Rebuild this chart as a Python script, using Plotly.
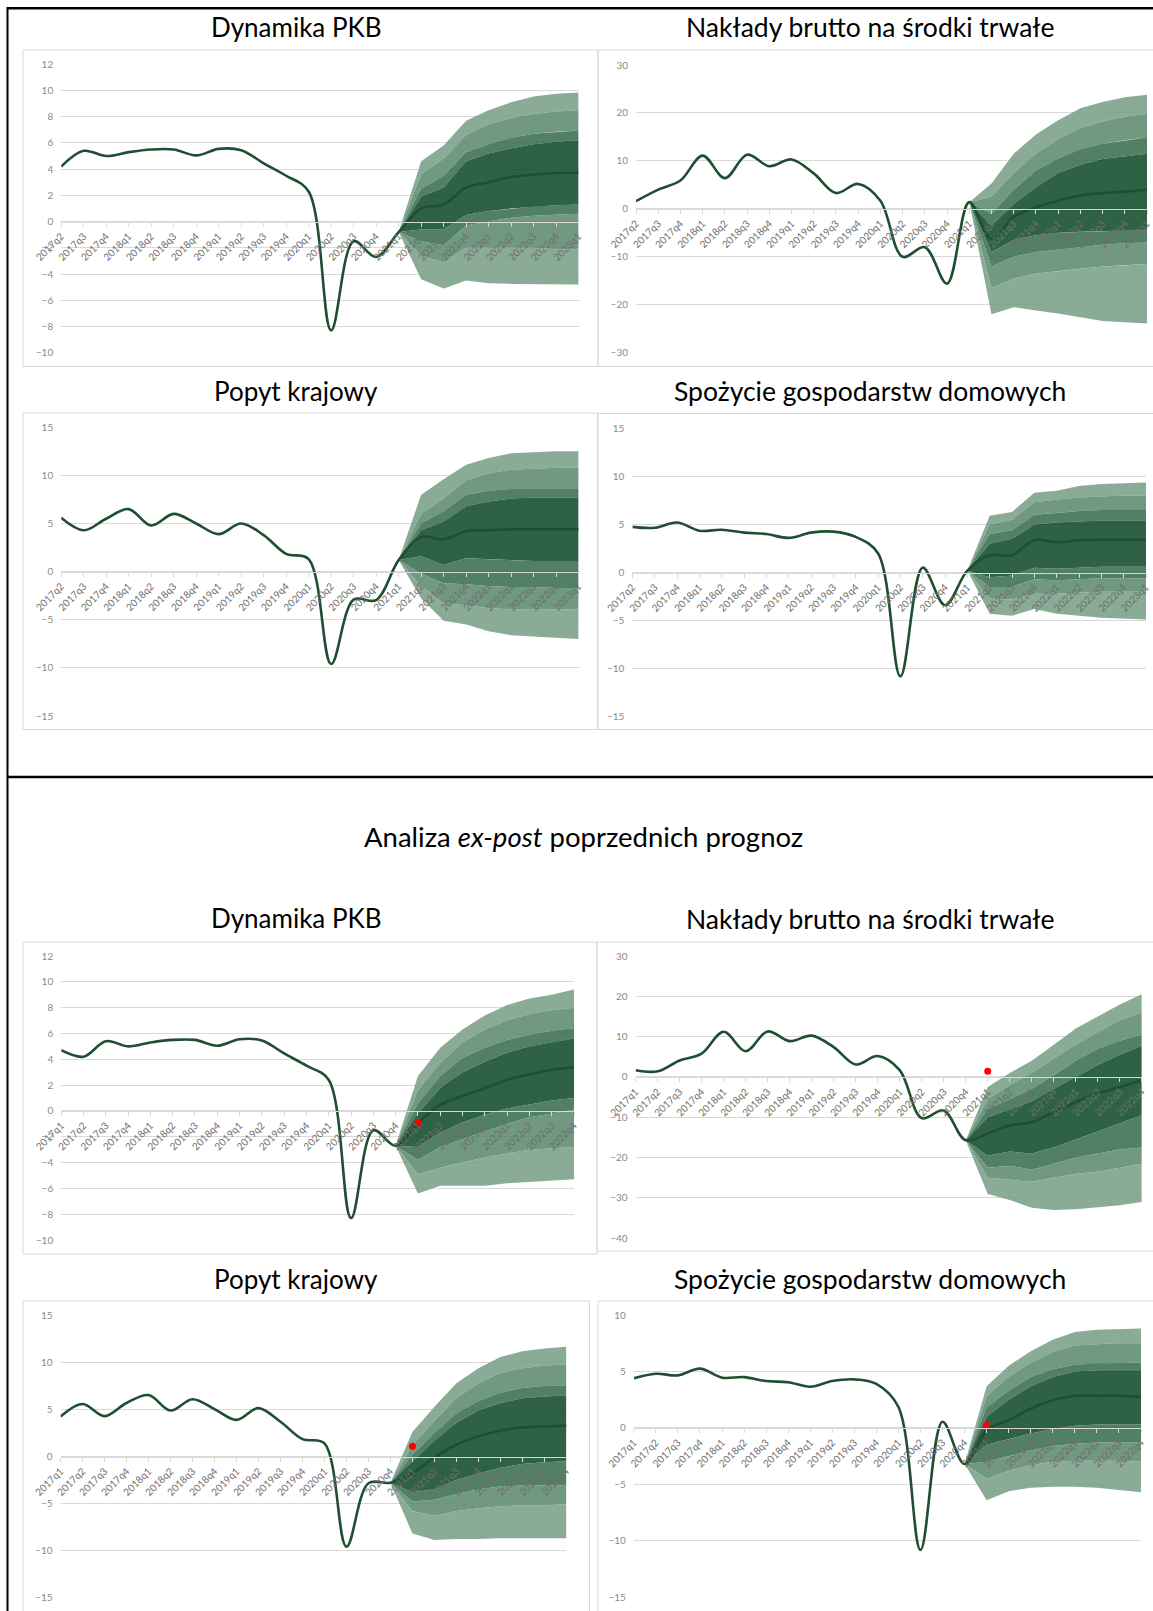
import plotly.graph_objects as go

W, H = 1153, 1611

# ---------------------------------------------------------------- categories
Q_MAIN = ["2017q2", "2017q3", "2017q4", "2018q1", "2018q2", "2018q3", "2018q4",
          "2019q1", "2019q2", "2019q3", "2019q4", "2020q1", "2020q2", "2020q3",
          "2020q4", "2021q1", "2021q2", "2021q3", "2021q4", "2022q1", "2022q2",
          "2022q3", "2022q4", "2023q1"]
Q_EXPOST = ["2017q1", "2017q2", "2017q3", "2017q4", "2018q1", "2018q2", "2018q3",
            "2018q4", "2019q1", "2019q2", "2019q3", "2019q4", "2020q1", "2020q2",
            "2020q3", "2020q4", "2021q1", "2021q2", "2021q3", "2021q4", "2022q1",
            "2022q2", "2022q3", "2022q4"]
FAN_START = 15          # first quarter of the fan (last observed point)
ACTUAL_Q = "2021q1"     # realised value shown against the old forecast

# ---------------------------------------------------------------- current forecast
# fan edges: [u4, u3, u2, u1, l1, l2, l3, l4]  (outer upper ... outer lower)
pkb_line = [4.2, 5.4, 5.0, 5.3, 5.5, 5.5, 5.05, 5.55, 5.45, 4.45, 3.5, 2.3,
            -8.3, -1.5, -2.7, -0.8, 1.0, 1.3, 2.6, 3.0, 3.4, 3.6, 3.7, 3.75]
pkb_fan = [
    [-0.8, 4.6, 5.8, 7.7, 8.5, 9.1, 9.55, 9.75, 9.85],
    [-0.8, 3.6, 4.8, 6.6, 7.4, 7.9, 8.2, 8.4, 8.5],
    [-0.8, 2.5, 3.5, 5.3, 5.9, 6.4, 6.7, 6.85, 6.95],
    [-0.8, 1.9, 2.6, 4.6, 5.2, 5.6, 5.9, 6.1, 6.2],
    [-0.8, -0.6, -0.6, 0.5, 0.8, 1.0, 1.15, 1.25, 1.3],
    [-0.8, -1.5, -1.8, -0.3, 0.0, 0.3, 0.45, 0.55, 0.6],
    [-0.8, -2.6, -3.1, -2.0, -2.0, -2.0, -2.0, -2.1, -2.1],
    [-0.8, -4.4, -5.1, -4.5, -4.7, -4.75, -4.8, -4.8, -4.8],
]

inv_line = [1.6, 4.0, 5.9, 11.1, 6.4, 11.3, 8.9, 10.3, 7.4, 3.3, 5.2, 1.7,
            -10.0, -8.0, -15.6, 1.4, -6.3, -1.7, 0.35, 1.7, 2.8, 3.3, 3.6, 4.0]
inv_fan = [
    [1.4, 5.3, 11.5, 15.5, 18.5, 21.0, 22.3, 23.3, 23.8],
    [1.4, 2.5, 7.5, 11.5, 14.5, 16.8, 18.2, 19.2, 19.8],
    [1.4, -1.0, 4.0, 8.0, 10.5, 12.5, 13.6, 14.3, 14.9],
    [1.4, -3.5, 1.0, 4.5, 7.5, 9.2, 10.4, 11.0, 11.5],
    [1.4, -9.0, -6.5, -5.5, -5.0, -4.8, -4.6, -4.5, -4.5],
    [1.4, -12.0, -10.0, -9.0, -8.5, -8.0, -7.5, -7.2, -7.0],
    [1.4, -16.5, -14.5, -13.5, -13.0, -12.5, -12.0, -11.8, -11.5],
    [1.4, -22.0, -20.5, -21.2, -21.8, -22.6, -23.4, -23.6, -23.9],
]

dd_line = [5.6, 4.3, 5.5, 6.5, 4.8, 6.0, 5.0, 3.9, 5.0, 3.8, 1.85, 1.3,
           -9.6, -2.9, -2.95, 1.2, 3.6, 3.35, 4.2, 4.3, 4.4, 4.4, 4.4, 4.4]
dd_fan = [
    [1.2, 8.0, 9.6, 11.1, 11.8, 12.3, 12.4, 12.5, 12.5],
    [1.2, 6.0, 7.6, 9.5, 10.2, 10.6, 10.7, 10.8, 10.8],
    [1.2, 5.0, 6.3, 8.0, 8.4, 8.6, 8.6, 8.6, 8.6],
    [1.2, 4.3, 5.2, 6.8, 7.3, 7.6, 7.7, 7.7, 7.7],
    [1.2, 1.6, 0.7, 1.4, 1.3, 1.2, 1.1, 1.1, 1.1],
    [1.2, -0.2, -1.2, -1.3, -1.5, -1.6, -1.6, -1.7, -1.7],
    [1.2, -1.5, -3.3, -3.5, -3.8, -3.9, -3.9, -3.9, -3.9],
    [1.2, -2.8, -5.1, -5.5, -6.2, -6.6, -6.75, -6.9, -7.0],
]

cons_line = [4.75, 4.65, 5.2, 4.35, 4.45, 4.15, 4.0, 3.6, 4.15, 4.25, 3.7, 2.0,
             -10.8, 0.5, -3.4, 0.2, 1.8, 1.8, 3.35, 3.15, 3.35, 3.4, 3.4, 3.4]
cons_fan = [
    [0.2, 5.9, 6.3, 8.3, 8.5, 9.0, 9.2, 9.3, 9.35],
    [0.2, 5.0, 5.5, 7.3, 7.6, 7.8, 7.9, 8.0, 8.0],
    [0.2, 4.0, 4.4, 6.0, 6.2, 6.4, 6.5, 6.5, 6.5],
    [0.2, 3.0, 3.5, 5.0, 5.2, 5.3, 5.4, 5.4, 5.4],
    [0.2, -0.5, -0.3, 0.5, 0.4, 0.5, 0.6, 0.6, 0.6],
    [0.2, -1.5, -1.5, -0.7, -0.8, -0.7, -0.6, -0.6, -0.6],
    [0.2, -2.7, -2.8, -2.2, -2.2, -2.1, -2.0, -2.0, -2.0],
    [0.2, -4.3, -4.5, -3.8, -4.3, -4.5, -4.7, -4.8, -4.9],
]

# ---------------------------------------------------------------- ex-post (previous forecast)
pkb_ep_line = [4.7, 4.2, 5.4, 5.0, 5.3, 5.5, 5.5, 5.05, 5.55, 5.45, 4.45, 3.5,
               2.4, -8.3, -1.5, -2.7, -0.95, 0.46, 1.16, 1.75, 2.4, 2.84, 3.17, 3.38]
pkb_ep_fan = [
    [-2.7, 2.7, 4.9, 6.3, 7.4, 8.2, 8.7, 9.0, 9.4],
    [-2.7, 1.6, 3.7, 5.3, 6.3, 7.0, 7.5, 7.8, 8.0],
    [-2.7, 0.6, 2.7, 4.1, 4.9, 5.5, 5.9, 6.2, 6.4],
    [-2.7, -0.2, 1.8, 3.0, 3.8, 4.5, 5.0, 5.3, 5.6],
    [-2.7, -2.8, -1.7, -0.9, -0.3, 0.2, 0.5, 0.8, 1.0],
    [-2.7, -3.8, -2.8, -2.2, -1.6, -1.0, -0.5, -0.2, 0.1],
    [-2.7, -4.9, -4.4, -4.0, -3.6, -3.3, -3.0, -2.9, -2.8],
    [-2.7, -6.4, -5.8, -5.8, -5.8, -5.6, -5.5, -5.4, -5.3],
]
pkb_ep_actual = -0.9

inv_ep_line = [1.65, 1.4, 4.1, 5.8, 11.2, 6.4, 11.3, 8.9, 10.25, 7.4, 3.1, 5.2,
               1.7, -10.2, -8.3, -15.7, -14.0, -12.0, -11.2, -8.7, -6.2, -4.1, -2.5, -0.8]
inv_ep_fan = [
    [-15.7, -2.5, 1.0, 4.0, 8.0, 12.0, 15.0, 18.0, 20.5],
    [-15.7, -5.5, -2.0, 1.0, 4.5, 8.0, 11.0, 14.0, 16.0],
    [-15.7, -8.0, -5.5, -3.0, 0.5, 4.0, 7.0, 9.0, 10.5],
    [-15.7, -10.0, -8.0, -6.0, -3.0, 0.0, 3.0, 5.5, 7.7],
    [-15.7, -19.5, -18.5, -19.0, -17.5, -15.5, -13.5, -11.5, -9.5],
    [-15.7, -22.5, -22.0, -23.0, -21.5, -20.0, -19.0, -18.0, -17.5],
    [-15.7, -25.0, -25.5, -26.0, -25.0, -24.0, -23.5, -22.5, -21.5],
    [-15.7, -29.0, -30.5, -32.4, -33.0, -32.8, -32.3, -31.8, -31.0],
]
inv_ep_actual = 1.4

dd_ep_line = [4.25, 5.6, 4.3, 5.7, 6.55, 4.9, 6.1, 5.05, 3.9, 5.15, 3.7, 1.85,
              1.4, -9.6, -2.85, -2.8, -1.8, -0.1, 1.25, 2.15, 2.75, 3.1, 3.2, 3.3]
dd_ep_fan = [
    [-2.8, 2.6, 5.3, 7.8, 9.4, 10.6, 11.2, 11.5, 11.7],
    [-2.8, 1.2, 3.8, 6.2, 7.8, 8.9, 9.4, 9.7, 9.8],
    [-2.8, 0.2, 2.5, 4.6, 5.9, 6.8, 7.3, 7.5, 7.6],
    [-2.8, -0.5, 1.6, 3.6, 4.9, 5.7, 6.2, 6.4, 6.5],
    [-2.8, -3.8, -3.5, -2.5, -1.8, -1.2, -0.8, -0.6, -0.5],
    [-2.8, -4.8, -4.6, -4.0, -3.5, -3.2, -3.1, -3.1, -3.1],
    [-2.8, -5.8, -6.3, -5.8, -5.5, -5.3, -5.2, -5.2, -5.1],
    [-2.8, -8.2, -8.9, -8.8, -8.8, -8.7, -8.7, -8.7, -8.7],
]
dd_ep_actual = 1.1

cons_ep_line = [4.4, 4.8, 4.65, 5.25, 4.45, 4.5, 4.15, 4.05, 3.65, 4.15, 4.3, 3.9,
                1.85, -10.8, 0.55, -3.2, -0.2, 0.7, 1.7, 2.45, 2.85, 2.85, 2.85, 2.75]
cons_ep_fan = [
    [-3.2, 3.7, 5.5, 6.8, 7.8, 8.5, 8.7, 8.75, 8.8],
    [-3.2, 2.8, 4.5, 5.8, 6.7, 7.3, 7.4, 7.5, 7.5],
    [-3.2, 1.8, 3.3, 4.5, 5.2, 5.6, 5.7, 5.75, 5.8],
    [-3.2, 1.0, 2.5, 3.7, 4.5, 5.0, 5.1, 5.1, 5.1],
    [-3.2, -1.5, -1.0, -0.5, -0.1, 0.2, 0.3, 0.3, 0.3],
    [-3.2, -3.0, -2.5, -2.0, -1.6, -1.4, -1.3, -1.3, -1.3],
    [-3.2, -4.5, -3.8, -3.3, -3.0, -2.9, -2.9, -2.9, -3.0],
    [-3.2, -6.4, -5.6, -5.3, -5.2, -5.2, -5.3, -5.5, -5.7],
]
cons_ep_actual = 0.25

# ---------------------------------------------------------------- styling
FONT = "Lato"
GRID = "#d9d9d9"
LINE_GREEN = "#1f4f30"
# outer, third, second, central band (semi-transparent so gridlines show through)
BAND_COLORS = ["rgba(117,156,131,0.85)", "rgba(88,134,106,0.85)",
               "rgba(52,106,73,0.85)", "rgba(10,70,35,0.85)"]

# plot areas in pixels: (left, right, top, bottom)
panels = [
    dict(q=Q_MAIN, line=pkb_line, fan=pkb_fan, actual=None,
         yr=(-10, 12), dt=2, area=(61.2, 578.6, 64.3, 352.7)),
    dict(q=Q_MAIN, line=inv_line, fan=inv_fan, actual=None,
         yr=(-30, 30), dt=10, area=(636.0, 1147.0, 65.0, 352.7)),
    dict(q=Q_MAIN, line=dd_line, fan=dd_fan, actual=None,
         yr=(-15, 15), dt=5, area=(61.2, 578.6, 427.3, 716.0)),
    dict(q=Q_MAIN, line=cons_line, fan=cons_fan, actual=None,
         yr=(-15, 15), dt=5, area=(632.4, 1146.0, 428.3, 716.7)),
    dict(q=Q_EXPOST, line=pkb_ep_line, fan=pkb_ep_fan, actual=pkb_ep_actual,
         yr=(-10, 12), dt=2, area=(61.2, 574.0, 956.0, 1240.0)),
    dict(q=Q_EXPOST, line=inv_ep_line, fan=inv_ep_fan, actual=inv_ep_actual,
         yr=(-40, 30), dt=10, area=(635.6, 1141.8, 956.0, 1238.3)),
    dict(q=Q_EXPOST, line=dd_ep_line, fan=dd_ep_fan, actual=dd_ep_actual,
         yr=(-15, 15), dt=5, area=(60.5, 566.4, 1315.7, 1597.3)),
    dict(q=Q_EXPOST, line=cons_ep_line, fan=cons_ep_fan, actual=cons_ep_actual,
         yr=(-15, 10), dt=5, area=(633.8, 1141.0, 1315.0, 1597.3)),
]

fig = go.Figure()
layout = {}

for i, p in enumerate(panels, start=1):
    xa = "x" if i == 1 else f"x{i}"
    ya = "y" if i == 1 else f"y{i}"
    xk = "xaxis" if i == 1 else f"xaxis{i}"
    yk = "yaxis" if i == 1 else f"yaxis{i}"
    q = p["q"]
    fx = q[FAN_START:]
    u4, u3, u2, u1, l1, l2, l3, l4 = p["fan"]
    bands = [(u4, u3, 0), (u3, u2, 1), (u2, u1, 2), (u1, l1, 3),
             (l1, l2, 2), (l2, l3, 1), (l3, l4, 0)]
    for top, bot, c in bands:
        fig.add_trace(go.Scatter(
            x=fx + fx[::-1], y=top + bot[::-1], xaxis=xa, yaxis=ya,
            mode="lines", fill="toself", fillcolor=BAND_COLORS[c],
            line=dict(width=0), hoverinfo="skip", showlegend=False))
    fig.add_trace(go.Scatter(
        x=q, y=p["line"], xaxis=xa, yaxis=ya, mode="lines",
        line=dict(color=LINE_GREEN, width=2.6, shape="spline", smoothing=1.0),
        hoverinfo="skip", showlegend=False))
    if p["actual"] is not None:
        fig.add_trace(go.Scatter(
            x=[ACTUAL_Q], y=[p["actual"]], xaxis=xa, yaxis=ya, mode="markers",
            marker=dict(color="#ff0000", size=7), hoverinfo="skip",
            showlegend=False))

    left, right, top_px, bot_px = p["area"]
    ydom = [1 - bot_px / H, 1 - top_px / H]
    ymin, ymax = p["yr"]
    zero_pos = ydom[0] + (0 - ymin) / (ymax - ymin) * (ydom[1] - ydom[0])
    layout[xk] = dict(
        domain=[left / W, min(right / W, 1.0)], anchor="free", position=zero_pos,
        type="category", categoryorder="array", categoryarray=q,
        range=[0, len(q) - 1], tickmode="array",
        tickvals=q, ticktext=q, tickangle=-45, automargin=False,
        tickfont=dict(family=FONT, size=10, color="#6e6e6e"),
        showgrid=False, zeroline=False, showline=True, linecolor=GRID,
        linewidth=1, ticks="outside", ticklen=4, tickcolor=GRID,
        layer="above traces", fixedrange=True)
    layout[yk] = dict(
        domain=ydom, anchor=xa, range=[ymin, ymax], tick0=ymin, dtick=p["dt"],
        showgrid=True, gridcolor=GRID, gridwidth=1, zeroline=False,
        showline=False, ticks="", ticklabelstandoff=7, automargin=False,
        tickfont=dict(family=FONT, size=10, color="#8a8a8a"), fixedrange=True)

# chart frames (light grey boxes)
frames = [
    (23, 50, 598, 366.5), (598, 50, 1170, 366.5),
    (23, 413, 598, 729.5), (597.5, 413.5, 1170, 729.5),
    (23, 942, 597, 1254), (597, 942, 1170, 1251),
    (23, 1301, 589.5, 1630), (598, 1301, 1170, 1630),
]
shapes = []
for x0, y0, x1, y1 in frames:
    shapes.append(dict(type="rect", xref="paper", yref="paper", layer="below",
                       x0=x0 / W, x1=x1 / W, y0=1 - y1 / H, y1=1 - y0 / H,
                       line=dict(color=GRID, width=1), fillcolor="rgba(0,0,0,0)"))
# black outer border and section divider
for x0, y0, x1, y1, w in [(7, 8.3, 1160, 8.3, 2.5), (7.5, 7, 7.5, 1620, 2),
                          (7, 777, 1160, 777, 2.5)]:
    shapes.append(dict(type="line", xref="paper", yref="paper",
                       x0=x0 / W, x1=x1 / W, y0=1 - y0 / H, y1=1 - y1 / H,
                       line=dict(color="#000000", width=w)))

titles = [
    ("Dynamika PKB", 296, 27, 26), ("Nakłady brutto na środki trwałe", 870, 27, 26.5),
    ("Popyt krajowy", 296, 390.5, 26), ("Spożycie gospodarstw domowych", 870, 390.5, 26.5),
    ("Analiza <i>ex-post</i> poprzednich prognoz", 583, 837, 27.5),
    ("Dynamika PKB", 296, 918, 26), ("Nakłady brutto na środki trwałe", 870, 919, 26.5),
    ("Popyt krajowy", 296, 1279, 26), ("Spożycie gospodarstw domowych", 870, 1279, 26.5),
]
annotations = [
    dict(text=t, x=x / W, y=1 - y / H, xref="paper", yref="paper",
         xanchor="center", yanchor="middle", showarrow=False,
         font=dict(family=FONT, size=s, color="#000000"))
    for t, x, y, s in titles
]

fig.update_layout(
    template="none",
    width=W, height=H, margin=dict(l=0, r=0, t=0, b=0, pad=0),
    paper_bgcolor="white", plot_bgcolor="white",
    shapes=shapes, annotations=annotations, showlegend=False, **layout)

fig.write_html("out.html")
